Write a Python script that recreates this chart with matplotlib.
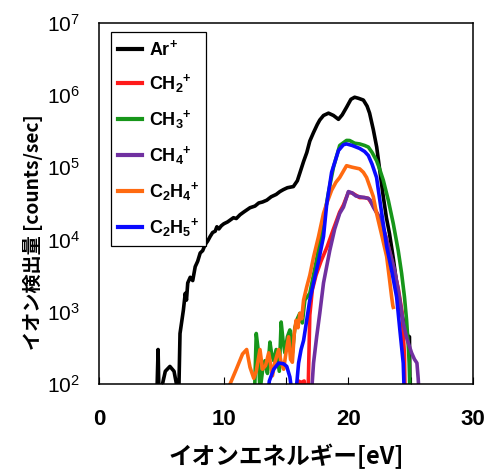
"""
Ion energy distribution (Ar / hydrocarbon ions), log scale.
"""

import matplotlib
matplotlib.use("Agg")
import matplotlib.pyplot as plt
from matplotlib.ticker import MultipleLocator, FixedLocator


plt.rcParams["font.family"] = ["Liberation Sans", "Noto Sans CJK JP", "DejaVu Sans"]
plt.rcParams["mathtext.fontset"] = "custom"
plt.rcParams["mathtext.rm"] = "Liberation Sans"
plt.rcParams["mathtext.bf"] = "Liberation Sans:bold"


# ---- data (energy in eV, counts/sec) ----

ar_energy = [4.6, 4.72, 4.8, 4.95, 5.3, 5.67, 6.0, 6.3, 6.38, 6.48, 6.75, 6.9,
             7.0, 7.1, 7.3, 7.5, 7.7, 7.9, 8.1, 8.3, 8.5, 8.7, 8.9, 9.1, 9.3,
             9.44, 9.6, 9.8, 10.0, 10.3, 10.77, 11.0, 11.3, 11.6, 12.1, 12.5,
             12.8, 13.1, 13.45, 13.8, 14.2, 14.5, 14.78, 15.1, 15.58, 15.9,
             16.1, 16.4, 16.66, 16.9, 17.19, 17.5, 17.7, 18.0, 18.4, 18.8,
             19.2, 19.5, 19.86, 20.2, 20.5, 20.8, 21.2, 21.5, 21.7, 22.0,
             22.27, 22.5, 22.8, 23.05, 23.3, 23.6, 23.87, 24.1, 24.27, 24.5,
             24.8, 24.9, 24.95]
ar_counts = [50, 300, 60, 80, 150, 175, 150, 80, 70, 500, 1050, 1800,
             1450, 2500, 3000, 2700, 4200, 5000, 6500, 7000, 8500, 9500, 11000,
             12500, 13000, 15000, 14000, 15500, 16500, 17500, 20000, 19500,
             22000, 24000, 27500, 29000, 32000, 33000, 35000, 39000, 42000,
             46000, 49000, 52000, 54000, 65000, 83000, 120000, 160000, 230000,
             300000, 390000, 450000, 520000, 560000, 520000, 460000, 530000,
             680000, 870000, 930000, 900000, 850000, 700000, 560000, 330000,
             190000, 95000, 39000, 20000, 12000, 5500, 2500, 1400, 950, 650,
             450, 450, 60]

ch2_energy = [15.9, 16.0, 16.2, 16.45, 16.6, 16.75, 16.9, 17.1, 17.4, 17.8,
              18.3, 18.8, 19.3, 19.6, 20.0, 20.3, 20.6, 20.9, 21.3, 21.6, 22.0,
              22.5, 23.0, 23.5, 24.0, 24.3, 24.5, 24.55]
ch2_counts = [60, 110, 105, 110, 60, 60, 900, 2000, 3200, 5000,
              8000, 14000, 24000, 30000, 45000, 44000, 41000, 38000, 38000,
              37000, 29000, 20000, 11000, 5000, 2100, 1000, 250, 60]

ch3_energy = [12.45, 12.6, 12.75, 12.9, 13.1, 13.3, 13.5, 13.7, 13.85, 14.0,
              14.2, 14.45, 14.6, 14.75, 14.9, 15.1, 15.3, 15.5, 15.7, 15.9,
              16.1, 16.3, 16.5, 16.9, 17.43, 18.0, 18.4, 18.8, 19.3, 19.85,
              20.1, 20.5, 20.9, 21.3, 21.6, 21.9, 22.26, 22.5, 22.8, 23.2,
              23.6, 24.0, 24.27, 24.5, 24.67, 24.8, 24.88, 24.95]
ch3_counts = [60, 500, 300, 80, 150, 210, 140, 380, 250, 210,
              300, 150, 720, 400, 270, 450, 560, 270, 600, 800,
              950, 700, 1450, 1800, 5100, 18000, 45000, 100000, 200000, 235000,
              234000, 215000, 210000, 200000, 190000, 160000, 123000, 95000,
              66000, 35000, 16600, 7000, 3400, 1600, 760, 350, 195, 60]

ch4_energy = [17.0, 17.2, 17.45, 17.7, 18.0, 18.5, 18.9, 19.3, 19.6, 20.0,
              20.3, 20.6, 20.9, 21.3, 21.6, 21.75, 22.0, 22.5, 23.0, 23.3,
              23.7, 24.0, 24.2, 24.4, 24.7, 25.07, 25.3, 25.5, 25.6, 25.7]
ch4_counts = [60, 195, 450, 950, 2500, 7000, 14000, 23000, 28000, 46000,
              44000, 40000, 39000, 38000, 37000, 35000, 28000, 20000, 11000,
              7000, 3800, 2000, 1200, 700, 420, 270, 220, 195, 120, 60]

c2h4_energy = [10.3, 10.5, 11.0, 11.5, 11.83, 12.1, 12.4, 12.6, 12.9, 13.1,
               13.35, 13.6, 13.9, 14.1, 14.4, 14.6, 14.8, 15.0, 15.2, 15.35,
               15.5, 15.65, 15.8, 15.95, 16.1, 16.25, 16.4, 16.65, 16.9, 17.2,
               17.6, 18.0, 18.3, 18.65, 19.0, 19.3, 19.85, 20.3, 20.9, 21.2,
               21.46, 21.7, 22.0, 22.26, 22.7, 23.07, 23.3, 23.47, 23.57, 23.6]
c2h4_counts = [50, 100, 160, 260, 300, 170, 120, 150, 300, 160,
               180, 270, 130, 200, 300, 200, 160, 280, 450, 220,
               200, 500, 760, 600, 950, 800, 1450, 2200, 3200, 5700,
               11000, 23000, 33000, 48000, 62000, 72000, 105000, 100000, 95000,
               85000, 72000, 55000, 39000, 23000, 11000, 5800, 2800, 1600, 1200,
               1150]

c2h5_energy = [13.5, 13.65, 14.0, 14.4, 14.8, 15.05, 15.3, 15.45, 15.55, 15.8,
               16.0, 16.2, 16.4, 16.65, 16.9, 17.2, 17.6, 18.0, 18.25, 18.65,
               19.2, 19.6, 19.85, 20.3, 20.9, 21.3, 21.6, 21.9, 22.26, 22.6,
               23.07, 23.5, 23.87, 24.13, 24.4, 24.5]
c2h5_counts = [60, 110, 160, 195, 190, 175, 125, 80, 60, 80,
               195, 300, 400, 760, 1450, 2500, 5000, 11000, 30000, 85000,
               170000, 205000, 210000, 200000, 182000, 165000, 145000, 110000,
               72000, 28000, 8000, 3500, 1600, 560, 195, 60]

series = [
    (r"$\mathbf{Ar{}^{+}}$", ar_energy, ar_counts, "black"),
    (r"$\mathbf{CH_{2}{}^{+}}$", ch2_energy, ch2_counts, "#ff1a1a"),
    (r"$\mathbf{CH_{3}{}^{+}}$", ch3_energy, ch3_counts, "#17961a"),
    (r"$\mathbf{CH_{4}{}^{+}}$", ch4_energy, ch4_counts, "#7030a0"),
    (r"$\mathbf{C_{2}H_{4}{}^{+}}$", c2h4_energy, c2h4_counts, "#ff6a10"),
    (r"$\mathbf{C_{2}H_{5}{}^{+}}$", c2h5_energy, c2h5_counts, "#0a0aff"),
]

x_ticks = [0, 10, 20, 30]
y_ticks = [1e2, 1e3, 1e4, 1e5, 1e6, 1e7]
y_tick_labels = [r"$\mathregular{10^{%d}}$" % p for p in range(2, 8)]


fig = plt.figure(figsize=(4.93, 4.70), dpi=100)
ax = fig.add_axes([0.2014, 0.183, 0.758, 0.7687])

for label, energy, counts, color in series:
    ax.plot(energy, counts, color=color, linewidth=2.6, label=label)

ax.set_yscale("log")
ax.set_xlim(0, 30)
ax.set_ylim(1e2, 1e7)

ax.xaxis.set_major_locator(FixedLocator(x_ticks))
ax.xaxis.set_minor_locator(MultipleLocator(5))
ax.set_xticklabels([str(t) for t in x_ticks], fontsize=16, fontweight="bold")
ax.tick_params(axis="x", which="both", direction="in", length=5,
               width=0.8, pad=18)

ax.yaxis.set_major_locator(FixedLocator(y_ticks))
ax.yaxis.set_minor_locator(FixedLocator([]))
ax.set_yticklabels(y_tick_labels, fontsize=15)
ax.tick_params(axis="y", which="both", length=0, pad=14)

for spine in ax.spines.values():
    spine.set_linewidth(1.1)

ax.set_xlabel("イオンエネルギー[eV]", fontsize=17, fontweight="bold",
              family=["Noto Sans CJK JP", "DejaVu Sans"], labelpad=10)
ax.set_ylabel("イオン検出量 [counts/sec]", fontsize=13.8, fontweight="bold",
              family=["Noto Sans CJK JP", "DejaVu Sans"])
ax.yaxis.set_label_coords(-0.15, 0.42)

leg = ax.legend(
    loc="upper left",
    bbox_to_anchor=(0.031, 0.975),
    borderaxespad=0,
    fontsize=13,
    handlelength=1.3,
    handletextpad=0.4,
    labelspacing=0.72,
    borderpad=0.4,
    fancybox=False,
    edgecolor="black",
    framealpha=1,
)
leg.get_frame().set_linewidth(0.9)
for line in leg.get_lines():
    line.set_linewidth(3)

fig.savefig("out.png", dpi=100)
